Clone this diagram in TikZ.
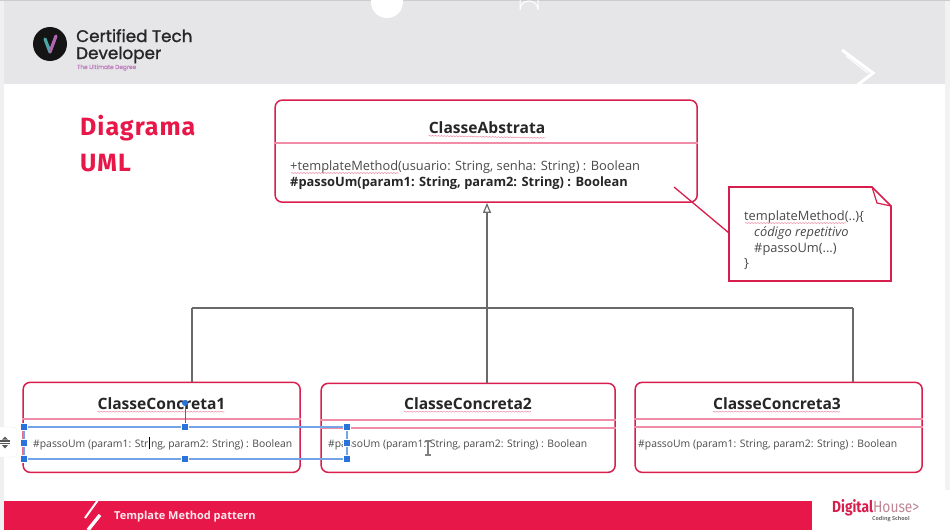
\documentclass[tikz,border=0pt]{standalone}
\usepackage{fontspec}
\setmainfont{Open Sans}
\newfontfamily\headfont[LetterSpace=4]{Fira Sans}
\newfontfamily\dhfont{Fira Sans}
\newfontfamily\logofont[FakeBold=1.2]{Poppins}
\usetikzlibrary{arrows.meta,decorations.pathmorphing}
\definecolor{brand}{HTML}{D81E4C}
\definecolor{soft}{HTML}{F08CA5}
\definecolor{band}{HTML}{E8174A}
\definecolor{hdr}{HTML}{E6E6E8}
\definecolor{conn}{HTML}{6A6A6A}
\definecolor{txt}{HTML}{4A4A4A}
\definecolor{sel}{HTML}{2A72DC}
\tikzset{
  classbox/.style={draw=brand,line width=1.5pt,rounded corners=7pt,fill=white,inner sep=0pt,anchor=north west},
  classname/.style={font=\bfseries\fontsize{15.6}{18}\selectfont,text=black!85,inner sep=0pt},
  meth/.style={font=\fontsize{12.85}{15}\selectfont,text=txt,anchor=base west,inner sep=0pt},
  methb/.style={font=\fontsize{10.36}{12}\selectfont,text=txt,anchor=base west,inner sep=0pt},
  notetext/.style={font=\fontsize{12.85}{15}\selectfont,text=txt,anchor=base west,inner sep=0pt},
  divider/.style={draw=soft,line width=1.1pt},
  squig/.style={draw=soft,line width=.5pt,decorate,decoration={snake,amplitude=.5pt,segment length=3pt}},
  generalize/.style={draw=conn,line width=1.7pt},
  handle/.style={fill=sel,draw=white,line width=.3pt,inner sep=0pt,minimum size=7pt},
  selline/.style={draw=sel!65,line width=1.4pt},
}
\begin{document}
\begin{tikzpicture}[x=1pt,y=-1pt]
\useasboundingbox (0,0) rectangle (950,530);
\fill[white] (0,0) rectangle (950,530);
% margins and header
\fill[black!6] (0,0) rectangle (4,530);
\fill[black!5] (945,0) rectangle (950,490);
\fill[hdr] (4,1) rectangle (945,84);
\fill[black!20] (0,0) rectangle (950,1);
\fill[white] (387,2) circle (16);
\draw[white,line width=1pt] (520,0) -- (520,10) arc (180:360:9) -- (538,0);
\draw[white,line width=3pt] (842,50) -- (873,73) -- (842,97);
\draw[white,line width=1pt] (846,56) -- (868,73);
% logo
\fill[black!92] (50,44) circle (17);
\draw[line width=3.2pt,line cap=round,color=teal!70!white] (45,39) -- (50,52);
\draw[line width=3.2pt,line cap=round,color=violet!60!white] (50,52) -- (56,36);
\node[font=\logofont\fontsize{16.8}{18}\selectfont,text=black!85,anchor=base west,inner sep=0pt] (logoa) at (76,42) {Certified Tech};
\node[font=\logofont\fontsize{16.8}{18}\selectfont,text=black!85,anchor=base west,inner sep=0pt] (logob) at (76,59) {Developer};
\node[font=\logofont\fontsize{5.8}{7}\selectfont,text=violet!50!white,anchor=base west,inner sep=0pt] (logoc) at (77,69) {The Ultimate Degree};
% title
\node[font=\headfont\bfseries\fontsize{25}{30}\selectfont,text=band,anchor=base west,inner sep=0pt] (tita) at (80,135) {Diagrama};
\node[font=\headfont\bfseries\fontsize{25}{30}\selectfont,text=band,anchor=base west,inner sep=0pt] (titb) at (80,171) {UML};
% footer
\fill[band] (4,501) rectangle (812,530);
\draw[white,line width=2pt] (98,500) -- (85,518);
\draw[white,line width=3.4pt] (100,515) -- (88,530);
\node[font=\bfseries\fontsize{11}{13}\selectfont,text=white!90!band,anchor=base west,inner sep=0pt] (foot) at (114,519) {Template Method pattern};
\node[font=\dhfont\fontsize{16}{20}\selectfont,anchor=base west,inner sep=0pt,xscale=.86] (dh) at (832,512) {\textcolor{brand}{\bfseries Digital}\textcolor{brand!60!black!50}{House>}};
\node[font=\bfseries\fontsize{5.4}{6}\selectfont,text=black!60,anchor=base west,inner sep=0pt] (dhs) at (872,520.5) {Coding School};
% classes
\node[classbox,minimum width=422pt,minimum height=102pt] (abs) at (274.4,99.4) {};
\node[classbox,minimum width=277pt,minimum height=90pt] (c1) at (22.4,381.6) {};
\node[classbox,minimum width=294pt,minimum height=89pt] (c2) at (320.4,382.6) {};
\node[classbox,minimum width=287pt,minimum height=90pt] (c3) at (634.4,381.6) {};
% dividers
\draw[divider] (abs.west |- 0,143) -- (abs.east |- 0,143);
\draw[divider] (c1.west |- 0,419) -- (c1.east |- 0,419);
\draw[divider] (c2.west |- 0,420) -- (c2.east |- 0,420);
\draw[divider] (c2.west |- 0,428) -- (c2.east |- 0,428);
\draw[divider] (c3.west |- 0,419) -- (c3.east |- 0,419);
\draw[divider] (c3.west |- 0,427) -- (c3.east |- 0,427);
% class texts
\node[classname] (absn) at (487,128) {ClasseAbstrata};
\draw[squig] (absn.south west) ++(0,1.5) -- (absn.south east |- 0,138);
\node[meth] (m1) at (290,170) {+templateMethod(usuario: String, senha: String) : Boolean};
\draw[squig] (291,173) -- (399,173);
\node[meth,font=\bfseries\fontsize{12.85}{15}\selectfont,text=black!85] (m2) at (290,186) {\#passoUm(param1: String, param2: String) : Boolean};
\node[classname] (c1n) at (161.5,404) {ClasseConcreta1};
\draw[squig] (c1n.south west) ++(0,1.5) -- ++(127,0);
\node[classname] (c2n) at (468,404) {ClasseConcreta2};
\draw[squig] (c2n.south west) ++(0,1.5) -- ++(127,0);
\node[classname] (c3n) at (777,404) {ClasseConcreta3};
\draw[squig] (c3n.south west) ++(0,1.5) -- ++(127,0);
\node[methb] (b1) at (33,447) {\#passoUm (param1: String, param2: String) : Boolean};
\node[methb] (b2) at (328,447) {\#passoUm (param1: String, param2: String) : Boolean};
\node[methb] (b3) at (638,447) {\#passoUm (param1: String, param2: String) : Boolean};
% generalization
\coordinate (j0) at (487,308);
\coordinate (j1) at (192,308);
\coordinate (j3) at (853,308);
\draw[generalize] (j1) -- (j3);
\draw[generalize] (j1) -- (j1 |- c1.north);
\draw[generalize] (j3) -- (j3 |- c3.north);
\draw[generalize] (j0) -- (j0 |- c2.north);
\draw[generalize,-{Triangle[open,fill=white,length=10pt,width=8pt,line width=1.2pt]}] (j0) -- (j0 |- abs.south);
% note
\draw[draw=brand,line width=1.6pt,fill=white] (729,187) -- (872,187) -- (891,206) -- (891,281) -- (729,281) -- cycle;
\coordinate (notew) at (729,233);
\coordinate (notefree) at (674,187);
\draw[draw=brand,line width=1.2pt] (872,187) -- (877,203) -- (891,206);
\draw[draw=brand,line width=1.3pt] (notefree) -- (notew);
\node[notetext] (n1) at (744,220) {templateMethod(..)\{};
\draw[squig] (745,223) -- (846,223);
\node[notetext,font=\itshape\fontsize{12.85}{15}\selectfont] (n2) at (754,236) {código repetitivo};
\node[notetext] (n3) at (754,252) {\#passoUm(...)};
\node[notetext] (n4) at (744,267) {\}};
% selection overlay
\draw[selline] (24,427) rectangle (347,459);
\draw[sel,line width=.8pt] (185,403) -- (185,427);
\fill[sel] (185,403) circle (3);
\foreach \hx/\hy/\hn in {24/427/ha,185/427/hb,347/427/hc,24/443/hd,347/443/he,24/459/hf,185/459/hg,347/459/hh}
  \node[handle] (\hn) at (\hx,\hy) {};
% text cursors
\draw[black,line width=1pt] (149,437) -- (149,449);
\draw[black!50,line width=1.2pt] (428,441) -- (428,455) (425,441) -- (431,441) (425,455) -- (431,455);
% side tool
\fill[white,rounded corners=4pt,draw=black!8] (-6,427) rectangle (17,457);
\draw[black!65,line width=1.1pt] (0,441) -- (10,441) (0,443.5) -- (10,443.5);
\fill[black!65] (2,439.5) -- (8,439.5) -- (5,436.5) -- cycle;
\fill[black!65] (2,445) -- (8,445) -- (5,448.5) -- cycle;
\end{tikzpicture}
\end{document}
